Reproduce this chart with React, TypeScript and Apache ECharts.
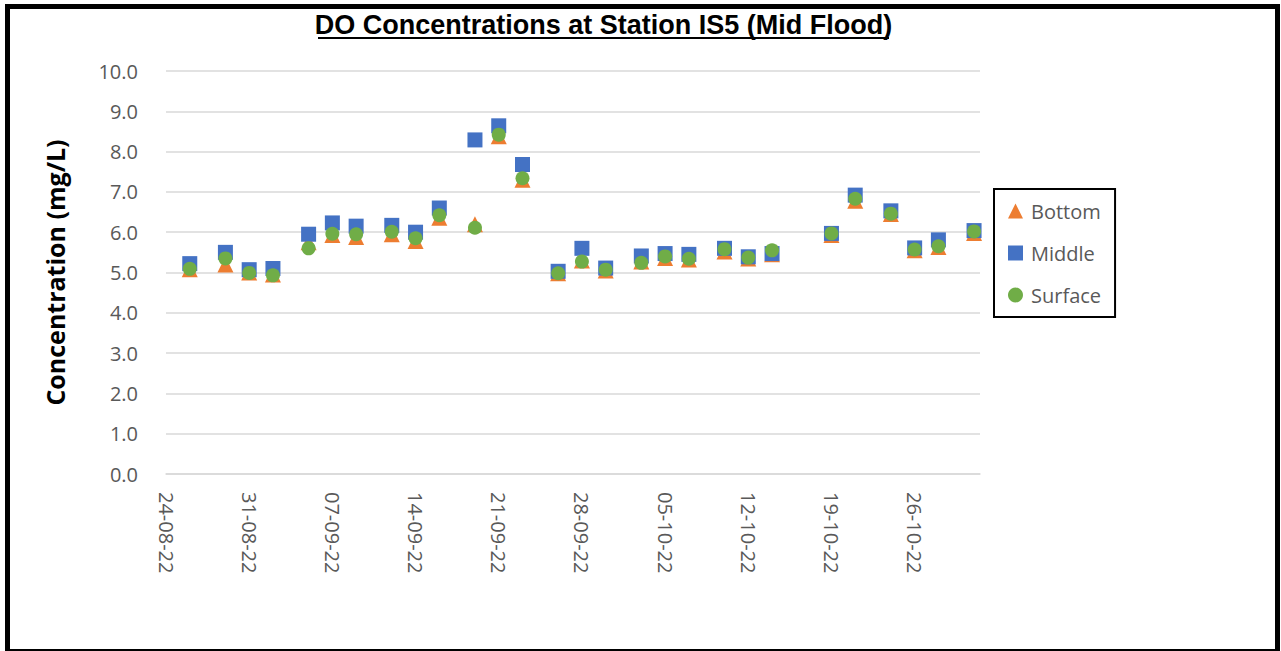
import React, { useEffect, useRef } from "react";
import * as echarts from "echarts";

const startDate = "2022-08-24";
const dates = [
  "2022-08-26", "2022-08-29", "2022-08-31", "2022-09-02", "2022-09-05", "2022-09-07",
  "2022-09-09", "2022-09-12", "2022-09-14", "2022-09-16", "2022-09-19", "2022-09-21",
  "2022-09-23", "2022-09-26", "2022-09-28", "2022-09-30", "2022-10-03", "2022-10-05",
  "2022-10-07", "2022-10-10", "2022-10-12", "2022-10-14", "2022-10-19", "2022-10-21",
  "2022-10-24", "2022-10-26", "2022-10-28", "2022-10-31",
];
const bottomValues = [
  5.08, 5.2, 5.0, 4.95, 5.75, 5.93, 5.88, 5.95, 5.78, 6.36, 6.2, 8.38, 7.3, 4.98,
  5.3, 5.05, 5.27, 5.36, 5.32, 5.52, 5.35, 5.45, 5.93, 6.78, 6.45, 5.55, 5.63, 5.98,
];
const middleValues = [
  5.22, 5.5, 5.07, 5.1, 5.95, 6.23, 6.15, 6.17, 6.0, 6.6, 8.29, 8.64, 7.68, 5.03,
  5.6, 5.11, 5.41, 5.47, 5.45, 5.6, 5.39, 5.47, 5.97, 6.92, 6.53, 5.61, 5.81, 6.04,
];
const surfaceValues = [
  5.09, 5.35, 4.99, 4.93, 5.6, 5.96, 5.95, 6.01, 5.85, 6.42, 6.11, 8.42, 7.34, 4.98,
  5.27, 5.07, 5.24, 5.4, 5.34, 5.58, 5.37, 5.55, 5.97, 6.83, 6.46, 5.57, 5.65, 6.02,
];
const seriesNames = ["Bottom", "Middle", "Surface"];
const titleText = "DO Concentrations at Station IS5 (Mid Flood)";
const yAxisTitle = "Concentration (mg/L)";

const DAY = 86400000;
const t0 = Date.parse(startDate + "T00:00:00Z");
const dayOf = (d: string) => (Date.parse(d + "T00:00:00Z") - t0) / DAY;
const labelOf = (day: number) => {
  const dt = new Date(t0 + day * DAY);
  const dd = String(dt.getUTCDate()).padStart(2, "0");
  const mm = String(dt.getUTCMonth() + 1).padStart(2, "0");
  const yy = String(dt.getUTCFullYear() % 100).padStart(2, "0");
  return `${dd}-${mm}-${yy}`;
};

export default function App() {
  const ref = useRef<HTMLDivElement>(null);
  useEffect(() => {
    if (!ref.current) return;
    const chart = echarts.init(ref.current, undefined, { renderer: "svg" });
    const mk = (vals: number[]) => dates.map((d, i) => [dayOf(d), vals[i]]);
    const gray = "#595959";
    const font = "'Open Sans', sans-serif";
    chart.setOption({
      animation: false,
      backgroundColor: "#ffffff",
      grid: { left: 166, right: 301, top: 71, bottom: 177 },
      xAxis: {
        type: "value",
        min: 0,
        max: 68.5,
        interval: 7,
        axisLine: { show: true, lineStyle: { color: "#d9d9d9", width: 1.5 } },
        axisTick: { show: false },
        splitLine: { show: false },
        axisLabel: {
          rotate: -90,
          margin: 18,
          color: gray,
          fontSize: 20,
          fontFamily: font,
          showMaxLabel: false,
          formatter: (v: number) => (Math.abs(v / 7 - Math.round(v / 7)) < 1e-6 ? labelOf(v) : ""),
        },
      },
      yAxis: {
        type: "value",
        min: 0,
        max: 10,
        interval: 1,
        name: yAxisTitle,
        nameLocation: "middle",
        nameGap: 99,
        nameTextStyle: { fontSize: 25, fontWeight: "bold", color: "#000", fontFamily: font },
        axisLine: { show: false },
        axisTick: { show: false },
        splitLine: { show: true, lineStyle: { color: "#d9d9d9", width: 1.5 } },
        axisLabel: {
          margin: 28,
          color: gray,
          fontSize: 20,
          fontFamily: font,
          formatter: (v: number) => v.toFixed(1),
        },
      },
      legend: {
        orient: "vertical",
        left: 994,
        top: 189,
        padding: [12, 14, 12, 14],
        itemGap: 22,
        itemWidth: 15,
        itemHeight: 15,
        borderColor: "#000",
        borderWidth: 2,
        textStyle: { color: gray, fontSize: 20, fontFamily: font, padding: [0, 0, 0, 3] },
        data: seriesNames,
      },
      graphic: [
        {
          type: "rect",
          shape: { x: 7.5, y: 6.5, width: 1270, height: 645 },
          style: { fill: "none", stroke: "#000", lineWidth: 5 },
          silent: true,
        },
        {
          type: "text",
          x: 603.5,
          y: 25,
          style: {
            text: titleText,
            align: "center",
            verticalAlign: "middle",
            fontFamily: "Liberation Sans",
            fontWeight: "bold",
            fontSize: 27,
            fill: "#000",
          },
        },
        {
          type: "line",
          shape: { x1: 318, y1: 38, x2: 889, y2: 38 },
          style: { stroke: "#000", lineWidth: 2 },
        },
      ],
      series: [
        {
          name: seriesNames[0],
          type: "scatter",
          symbol: "triangle",
          symbolSize: 16,
          itemStyle: { color: "#ED7D31", opacity: 1 },
          data: mk(bottomValues),
        },
        {
          name: seriesNames[1],
          type: "scatter",
          symbol: "rect",
          symbolSize: 15,
          itemStyle: { color: "#4472C4", opacity: 1 },
          data: mk(middleValues),
        },
        {
          name: seriesNames[2],
          type: "scatter",
          symbol: "circle",
          symbolSize: 14,
          itemStyle: { color: "#70AD47", opacity: 1 },
          data: mk(surfaceValues),
        },
      ],
    });
    return () => chart.dispose();
  }, []);
  return (
    <div
      ref={ref}
      style={{ position: "absolute", left: 0, top: 0, width: 1281, height: 651 }}
    />
  );
}
